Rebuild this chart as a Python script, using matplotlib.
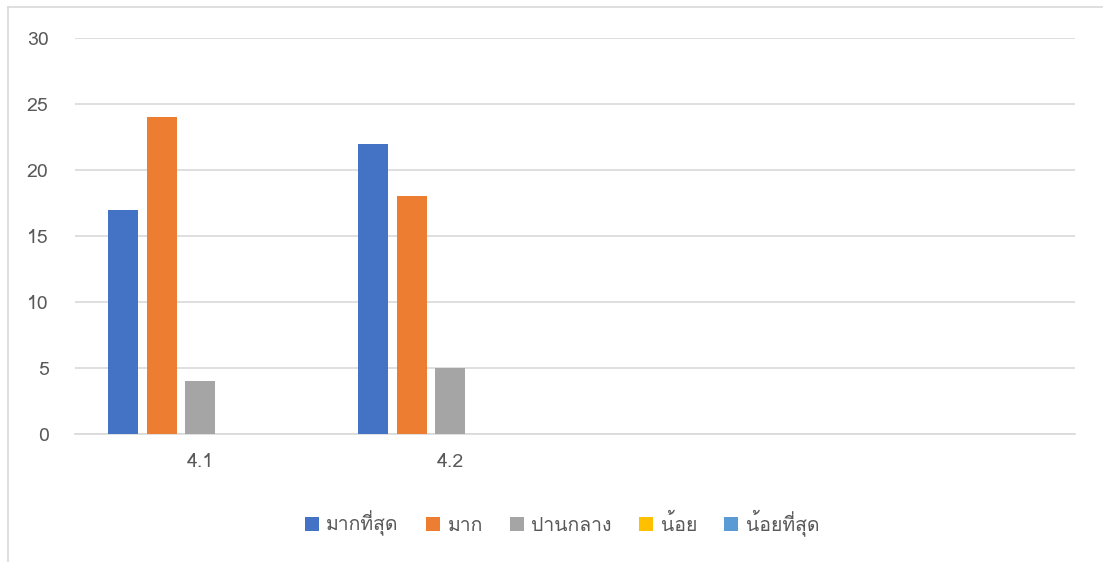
import matplotlib
matplotlib.use("Agg")
import matplotlib.pyplot as plt
import numpy as np
from matplotlib import font_manager
from matplotlib.ft2font import FT2Font
from matplotlib.lines import Line2D
from matplotlib.patches import Patch

OUT_PATH = "out.png"

categories = ["4.1", "4.2", "", ""]
series_names = ["มากที่สุด", "มาก", "ปานกลาง", "น้อย", "น้อยที่สุด"]
most = [17, 22, 0, 0]
much = [24, 18, 0, 0]
medium = [4, 5, 0, 0]
little = [0, 0, 0, 0]
least = [0, 0, 0, 0]
y_ticks = [0, 5, 10, 15, 20, 25, 30]

colors = ["#4472C4", "#ED7D31", "#A5A5A5", "#FFC000", "#5B9BD5"]
TEXT_COLOR = "#595959"
GRID_COLOR = "#d9d9d9"


def find_thai_family():
    # first installed font that actually has Thai glyphs
    for entry in font_manager.fontManager.ttflist:
        try:
            font = FT2Font(entry.fname)
            if font.get_char_index(0x0E01) and font.get_char_index(0x0E32):
                return entry.name
        except Exception:
            continue
    return None


thai = find_thai_family()
families = ([thai] if thai else []) + ["DejaVu Sans"]
plt.rcParams["font.family"] = families

fig = plt.figure(figsize=(11.03, 5.62), dpi=100)
ax = fig.add_axes([75 / 1103, 128 / 562, 1000 / 1103, 396 / 562])

x = np.arange(len(categories))
step = 0.154
width = 0.12
for i, (vals, color, name) in enumerate(zip([most, much, medium, little, least], colors, series_names)):
    ax.bar(x + (i - 2) * step, vals, width=width, color=color, label=name, zorder=3)

ax.set_xlim(-0.5, len(categories) - 0.5)
ax.set_ylim(0, 30)
ax.set_yticks(y_ticks)
ax.set_xticks(x)
ax.set_xticklabels(categories)
ax.yaxis.grid(True, color=GRID_COLOR, linewidth=1.2, zorder=0)
ax.tick_params(axis="both", length=0, colors=TEXT_COLOR, labelsize=14)
ax.tick_params(axis="y", pad=19)
ax.tick_params(axis="x", pad=14)
for side in ["top", "right", "left"]:
    ax.spines[side].set_visible(False)
ax.spines["bottom"].set_color(GRID_COLOR)
ax.spines["bottom"].set_linewidth(1.2)

handles = [Patch(facecolor=c, edgecolor="none") for c in colors]
fig.legend(handles, series_names, loc="center", bbox_to_anchor=(562 / 1103, 1 - 523 / 562),
           ncol=5, frameon=False, fontsize=14, labelcolor=TEXT_COLOR,
           handlelength=0.7, handleheight=0.7, handletextpad=0.4, columnspacing=1.4)

# chart frame
fig.add_artist(Line2D([7.5 / 1103, 7.5 / 1103], [0, 1 - 6.5 / 562], color=GRID_COLOR, linewidth=1.2))
fig.add_artist(Line2D([7.5 / 1103, 1], [1 - 6.5 / 562, 1 - 6.5 / 562], color=GRID_COLOR, linewidth=1.2))

fig.savefig(OUT_PATH, dpi=100)
